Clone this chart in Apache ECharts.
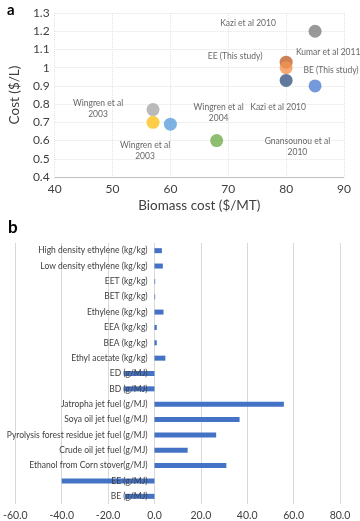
<!DOCTYPE html>
<html>
<head>
<meta charset="utf-8">
<script src="https://cdn.jsdelivr.net/npm/echarts@6/dist/echarts.min.js"></script>
<style>
  html, body { margin: 0; padding: 0; background: #fff; }
  #main { width: 360px; height: 521px; }
</style>
</head>
<body>
<div id="main"></div>
<script>
// panel a: biomass cost vs product cost
var studies = ['Kazi et al 2010', 'Kumar et al 2011', 'EE (This study)', 'Kazi et al 2010', 'BE (This study)',
    'Wingren et al\n2003', 'Wingren et al\n2003', 'Gnansounou et al\n2010', 'Wingren et al\n2004'];
var biomassCost = [85, 80, 80, 80, 85, 57, 57, 60, 68];
var costPerL = [1.20, 1.03, 1.00, 0.93, 0.90, 0.77, 0.70, 0.69, 0.60];

// panel b: emissions
var products = ['High density ethylene (kg/kg)', 'Low density ethylene (kg/kg)', 'EET (kg/kg)', 'BET (kg/kg)',
    'Ethylene (kg/kg)', 'EEA (kg/kg)', 'BEA (kg/kg)', 'Ethyl acetate (kg/kg)', 'ED (g/MJ)', 'BD (g/MJ)',
    'Jatropha jet fuel (g/MJ)', 'Soya oil jet fuel (g/MJ)', 'Pyrolysis forest residue jet fuel (g/MJ)',
    'Crude oil jet fuel (g/MJ)', 'Ethanol from Corn stover(g/MJ)', 'EE (g/MJ)', 'BE (g/MJ)'];
var emissions = [3.2, 3.6, 0.3, 0.3, 3.9, 1.0, 1.0, 4.7, -13.2, -13.2, 55.8, 36.7, 26.6, 14.3, 31.0, -40.0, -12.8];

var pointColors = ['#7f7f7f', '#c0622b', '#f39453', '#3b5886', '#5381d2', '#a9a9a9', '#ffc21a', '#5e9fdc', '#72ae4c'];
var labelOffsets = [[-67, -8], [42, -10], [-51, -11], [-8, 27], [16, -16], [-55, -1], [-8, 28], [127, 23], [2, -28]];

var font = 'Lato';
var scatterData = [];
for (var i = 0; i < studies.length; i++) {
    scatterData.push({
        value: [biomassCost[i], costPerL[i]],
        itemStyle: { color: pointColors[i] },
        label: { formatter: studies[i], offset: labelOffsets[i] }
    });
}

// panel b grid spans -60..80; category axis sits on the zero line
var gridBLeft = 12.7, gridBRight = 20;
var gridBWidth = 360 - gridBLeft - gridBRight;
var zeroShift = gridBWidth * 60 / 140;

var chart = echarts.init(document.getElementById('main'));
var option = {
    backgroundColor: '#fff',
    animation: false,
    textStyle: { fontFamily: font },
    title: [
        { text: 'a', left: 2, top: -2, textStyle: { fontSize: 15, fontWeight: 'bold', color: '#000', fontFamily: font } },
        { text: 'b', left: 3, top: 214, textStyle: { fontSize: 17, fontWeight: 'bold', color: '#000', fontFamily: font } }
    ],
    grid: [
        { left: 42, right: 16, top: 13, height: 164 },
        { left: gridBLeft, right: gridBRight, top: 243, height: 262 }
    ],
    xAxis: [
        {
            gridIndex: 0, type: 'value', min: 40, max: 90, interval: 10,
            name: 'Biomass cost ($/MT)', nameLocation: 'middle', nameGap: 22,
            nameTextStyle: { fontSize: 13.5, color: '#404040', fontFamily: font },
            axisLine: { lineStyle: { color: '#bfbfbf' } },
            axisTick: { show: false },
            axisLabel: { fontSize: 12, color: '#404040', margin: 6 },
            splitLine: { lineStyle: { color: '#e3e3e3', type: 'dotted' } }
        },
        {
            gridIndex: 1, type: 'value', min: -60, max: 80, interval: 20,
            axisLine: { show: false, onZero: false },
            axisTick: { show: false },
            axisLabel: { fontSize: 10.5, color: '#404040', margin: 6, formatter: function (v) { return v.toFixed(1); } },
            splitLine: { lineStyle: { color: '#d9d9d9', width: 1 } }
        }
    ],
    yAxis: [
        {
            gridIndex: 0, type: 'value', min: 0.4, max: 1.3, interval: 0.1,
            name: 'Cost ($/L)', nameLocation: 'middle', nameGap: 29, nameRotate: 90,
            nameTextStyle: { fontSize: 13.5, color: '#404040', fontFamily: font },
            axisLine: { show: false },
            axisTick: { show: false },
            axisLabel: { fontSize: 12, color: '#404040', margin: 5, formatter: function (v) { return String(Math.round(v * 10) / 10); } },
            splitLine: { lineStyle: { color: '#e3e3e3', type: 'dotted' } }
        },
        {
            gridIndex: 1, type: 'category', inverse: true, data: products,
            offset: -zeroShift, z: 5,
            axisLine: { show: false, onZero: false },
            axisTick: { show: false },
            axisLabel: { fontSize: 8.5, color: '#404040', margin: 8, interval: 0 }
        }
    ],
    series: [
        {
            type: 'scatter', xAxisIndex: 0, yAxisIndex: 0,
            symbolSize: 13,
            data: scatterData,
            label: {
                show: true, position: 'inside', fontSize: 8.5, color: '#404040',
                lineHeight: 11, align: 'center', fontFamily: font
            },
            z: 3
        },
        {
            type: 'bar', xAxisIndex: 1, yAxisIndex: 1,
            data: emissions, barWidth: 5,
            itemStyle: { color: '#4472c4' },
            z: 1
        }
    ]
};
chart.setOption(option);
</script>
</body>
</html>
